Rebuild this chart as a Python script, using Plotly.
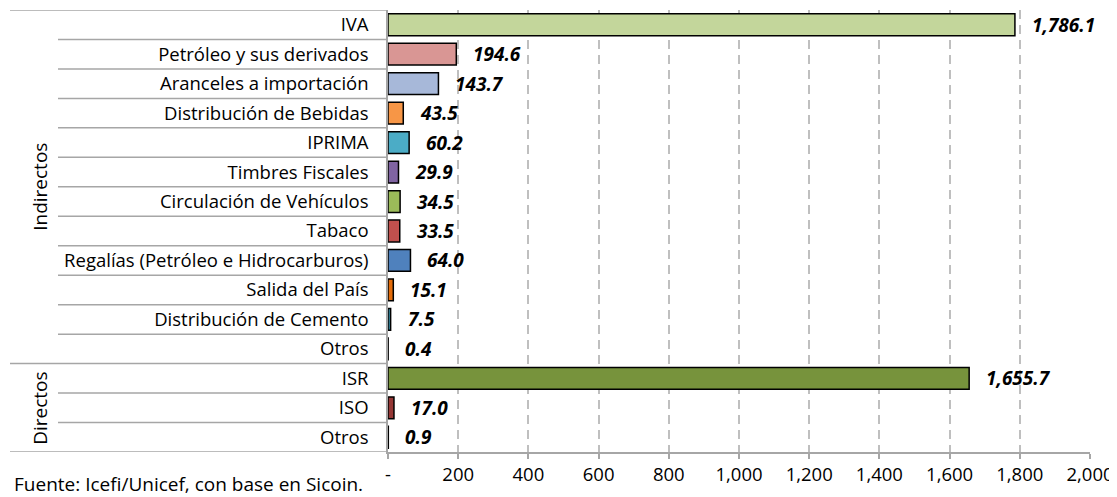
import numpy as np
import plotly.graph_objects as go

# ── Data ──────────────────────────────────────────────────────────────────
labels = [
    "IVA", "Petróleo y sus derivados", "Aranceles a importación",
    "Distribución de Bebidas", "IPRIMA", "Timbres Fiscales",
    "Circulación de Vehículos", "Tabaco", "Regalías (Petróleo e Hidrocarburos)",
    "Salida del País", "Distribución de Cemento", "Otros",
    "ISR", "ISO", "Otros",
]
values = [1786.1, 194.6, 143.7, 43.5, 60.2, 29.9, 34.5, 33.5, 64.0,
          15.1, 7.5, 0.4, 1655.7, 17.0, 0.9]
groups = ["Indirectos"] * 12 + ["Directos"] * 3
colors = ["#C3D69B", "#D99694", "#A7B8D9", "#F79646", "#4BACC6", "#8064A2",
          "#9BBB59", "#C0504D", "#4F81BD", "#E46C0A", "#31859C", "#7F7F7F",
          "#77933C", "#953735", "#7F7F7F"]
x_ticks = list(range(0, 2001, 200))
x_ticktext = ["-"] + [f"{v:,}" for v in x_ticks[1:]]
source = "Fuente: Icefi/Unicef, con base en Sicoin."

FONT = "Open Sans"
GRAY = "#A6A6A6"
pos = np.arange(len(labels))
n = len(labels)

# page body has an 8px margin, so the figure is drawn 8px smaller / shifted
W, H = 1109, 489
ML, MR, MT, MB = 380, 27, 2, 45
PW = W - ML - MR
PH = H - MT - MB


def px_x(px):
    # page pixel x -> paper coordinate
    return (px - 8 - ML) / PW


fig = go.Figure(go.Bar(
    x=values, y=pos, orientation="h",
    marker=dict(color=colors, line=dict(color="#000000", width=1.5)),
    width=0.74, hoverinfo="skip",
))

# value labels, bold italic, to the right of each bar
for p, v in zip(pos, values):
    fig.add_annotation(x=v, y=p, xref="x", yref="y", text=f"<b><i>{v:,.1f}</i></b>",
                       showarrow=False, xanchor="left", xshift=15,
                       font=dict(family=FONT, size=19, color="#000000"))

# row separators in the label area
for b in np.arange(-0.5, n, 1.0):
    long_line = b in (-0.5, 11.5, n - 0.5)
    fig.add_shape(type="line", xref="paper", yref="y",
                  x0=px_x(10) if long_line else px_x(58), x1=0,
                  y0=b, y1=b, line=dict(color=GRAY, width=1.5), layer="below")

# group labels
for g in ["Indirectos", "Directos"]:
    idx = [i for i, gg in enumerate(groups) if gg == g]
    fig.add_annotation(x=px_x(25), xref="paper", y=(idx[0] + idx[-1]) / 2, yref="y",
                       text=g, textangle=-90, showarrow=False,
                       font=dict(family=FONT, size=19, color="#000000"))

fig.add_annotation(x=px_x(12), xref="paper", y=-(484 - 452) / PH, yref="paper",
                   text=source, showarrow=False, xanchor="left", yanchor="middle",
                   font=dict(family=FONT, size=19, color="#000000"))

fig.update_layout(
    width=W, height=H,
    margin=dict(l=ML, r=MR, t=MT, b=MB),
    paper_bgcolor="white", plot_bgcolor="white",
    showlegend=False,
    font=dict(family=FONT, size=18, color="#000000"),
    xaxis=dict(range=[0, 2000], tickvals=x_ticks, ticktext=x_ticktext,
               showgrid=True, gridcolor="#BFBFBF", gridwidth=1.5, griddash="9px,6px",
               zeroline=False, showline=True, linecolor=GRAY, linewidth=1.5,
               ticks="outside", ticklen=5, tickcolor=GRAY, tickwidth=1.5,
               tickfont=dict(size=18.5), fixedrange=True),
    yaxis=dict(range=[n - 0.5, -0.5], tickvals=pos, ticktext=labels,
               showgrid=False, zeroline=False, showline=True, linecolor=GRAY, linewidth=1.5,
               ticks="", ticklabelstandoff=14, tickfont=dict(size=18.5), fixedrange=True),
)

fig.write_html("out.html")
